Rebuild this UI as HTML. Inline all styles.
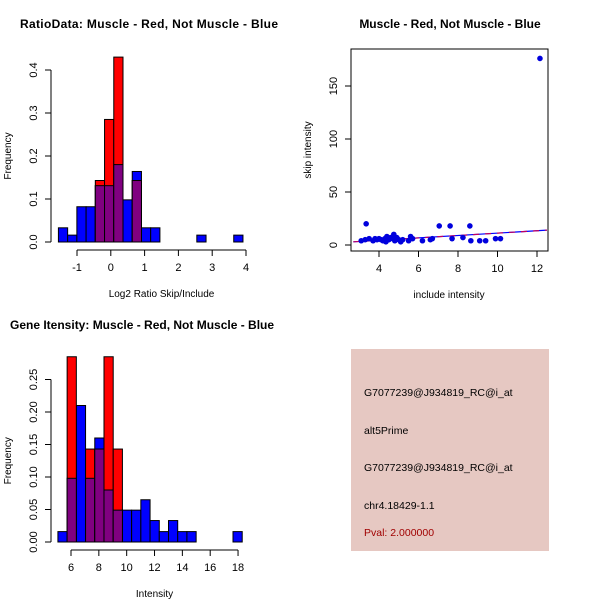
<!DOCTYPE html>
<html><head><meta charset="utf-8"><style>
body{margin:0;background:#fff}
text{font-family:"Liberation Sans",sans-serif;fill:#000}
</style></head><body>
<svg id="s" width="600" height="600" xmlns="http://www.w3.org/2000/svg">
<text x="20" y="28" font-size="12" font-weight="bold" textLength="258">RatioData: Muscle - Red, Not Muscle - Blue</text>
<text x="450" y="28" font-size="12" font-weight="bold" text-anchor="middle">Muscle - Red, Not Muscle - Blue</text>
<text x="10" y="329" font-size="12" font-weight="bold">Gene Itensity: Muscle - Red, Not Muscle - Blue</text>
<rect x="351" y="349" width="198" height="202" fill="#e6c8c2"/>
<g font-size="10.5">
<text x="364" y="396">G7077239@J934819_RC@i_at</text>
<text x="364" y="434">alt5Prime</text>
<text x="364" y="471">G7077239@J934819_RC@i_at</text>
<text x="364" y="509">chr4.18429-1.1</text>
<text x="364" y="536" style="fill:#a00000">Pval: 2.000000</text>
</g>
<g id="g1"></g><g id="g2"></g><g id="g3"></g>
</svg>
<script>
// ratio histogram
const ratioStart=-1.55, ratioWidth=0.273;
const ratioBlue=[0.033,0.016,0.082,0.082,0.131,0.131,0.18,0.098,0.164,0.033,0.033,0,0,0,0,0.016,0,0,0,0.016];
const ratioRed=[0,0,0,0,0.143,0.285,0.43,0,0.143,0,0,0,0,0,0,0,0,0,0,0];
const ratioXTicks=[-1,0,1,2,3,4];
const ratioYTicks=[0,0.1,0.2,0.3,0.4];
const ratioYLabels=["0.0","0.1","0.2","0.3","0.4"];
// intensity histogram
const intStart=5.06, intWidth=0.662;
const intBlue=[0.016,0.098,0.21,0.098,0.16,0.08,0.049,0.049,0.049,0.065,0.033,0.016,0.033,0.016,0.016,0,0,0,0,0.016];
const intRed=[0,0.285,0,0.143,0.143,0.285,0.143,0,0,0,0,0,0,0,0,0,0,0,0,0];
const intXTicks=[6,8,10,12,14,16,18];
const intYTicks=[0,0.05,0.1,0.15,0.2,0.25];
const intYLabels=["0.00","0.05","0.10","0.15","0.20","0.25"];
// scatter
const scX=[3.1,3.3,3.35,3.5,3.7,3.8,3.9,4.0,4.1,4.2,4.3,4.35,4.4,4.5,4.6,4.7,4.75,4.8,4.9,5.0,5.1,5.2,5.5,5.6,5.7,6.2,6.6,6.7,7.05,7.6,7.7,8.25,8.6,8.65,9.1,9.4,9.9,10.15,12.15];
const scY=[4,5,20,6,4,6,5,6,5,4,6,3,8,5,7,6,10,4,7,5,3,5,4,8,6,4,5,6,18,18,6,7,18,4,4,4,6,6,176];
const scXTicks=[4,6,8,10,12];
const scYTicks=[0,50,100,150];
const fitLine=[[2.7,3],[12.5,14]];

const NS="http://www.w3.org/2000/svg";
function mk(p,t,a){const e=document.createElementNS(NS,t);for(const k in a)e.setAttribute(k,a[k]);p.appendChild(e);return e;}

function hist(g,start,w,blue,red,sx,sy,xt,yt,ylab,axY,axX,xlab){
  blue.forEach((v,i)=>{if(!v)return;const x0=sx(start+i*w),x1=sx(start+(i+1)*w);
    const r=mk(g,'rect',{x:x0,y:sy(v),width:x1-x0,height:sy(0)-sy(v),fill:'#0000ff',stroke:'#000','stroke-width':1});
    
    });
  red.forEach((v,i)=>{if(!v)return;const x0=sx(start+i*w),x1=sx(start+(i+1)*w);
    const r=mk(g,'rect',{x:x0,y:sy(v),width:x1-x0,height:sy(0)-sy(v),fill:'#ff0000',stroke:'#000','stroke-width':1});
    
    
    const m=Math.min(v,blue[i]);if(m>0){
    const p=mk(g,'rect',{x:x0,y:sy(m),width:x1-x0,height:sy(0)-sy(m),fill:'#800080',stroke:'#000','stroke-width':1});
    
    }});
  mk(g,'line',{x1:axX,x2:axX,y1:sy(yt[0]),y2:sy(yt[yt.length-1]),stroke:'#000'});
  yt.forEach((v,i)=>{const y=sy(v);mk(g,'line',{x1:axX-6,x2:axX,y1:y,y2:y,stroke:'#000'});
    const t=mk(g,'text',{x:axX-14,y:y,'font-size':11,'text-anchor':'middle',transform:`rotate(-90 ${axX-14} ${y})`});t.textContent=ylab[i];
    
    });
  mk(g,'line',{x1:sx(xt[0]),x2:sx(xt[xt.length-1]),y1:axY,y2:axY,stroke:'#000'});
  xt.forEach(v=>{const x=sx(v);mk(g,'line',{x1:x,x2:x,y1:axY,y2:axY+6,stroke:'#000'});
    const t=mk(g,'text',{x:x,y:axY+21,'font-size':11,'text-anchor':'middle'});t.textContent=v;
    
    });
  const ym=(sy(yt[0])+sy(yt[yt.length-1]))/2;
  const yl=mk(g,'text',{x:11,y:ym,'font-size':10,'text-anchor':'middle',transform:`rotate(-90 11 ${ym})`});yl.textContent='Frequency';
  
  
  const xl=mk(g,'text',{x:(sx(xt[0])+sx(xt[xt.length-1]))/2,y:axY+47,'font-size':10,'text-anchor':'middle'});xl.textContent=xlab;
  
  
}
const g1=document.getElementById('g1');
hist(g1,ratioStart,ratioWidth,ratioBlue,ratioRed,v=>110.8+v*33.8,v=>242-v*430,ratioXTicks,ratioYTicks,ratioYLabels,250,51,'Log2 Ratio Skip/Include');
const g2=document.getElementById('g2');
hist(g2,intStart,intWidth,intBlue,intRed,v=>71+(v-6)*13.92,v=>542-v*650,intXTicks,intYTicks,intYLabels,550,51,'Intensity');

// scatter
const g3=document.getElementById('g3');
const px=v=>379+(v-4)*19.75, py=v=>245-v*1.06;
mk(g3,'rect',{x:351,y:49,width:197,height:202,fill:'none',stroke:'#000'});
scYTicks.forEach(v=>{const y=py(v);mk(g3,'line',{x1:345,x2:351,y1:y,y2:y,stroke:'#000'});
  const t=mk(g3,'text',{x:337,y:y,'font-size':11,'text-anchor':'middle',transform:`rotate(-90 337 ${y})`});t.textContent=v;
  
  });
scXTicks.forEach(v=>{const x=px(v);mk(g3,'line',{x1:x,x2:x,y1:251,y2:257,stroke:'#000'});
  const t=mk(g3,'text',{x:x,y:272,'font-size':11,'text-anchor':'middle'});t.textContent=v;
  
  });
mk(g3,'line',{x1:px(fitLine[0][0]),y1:py(fitLine[0][1]),x2:px(fitLine[1][0]),y2:py(fitLine[1][1]),stroke:'#0000ff','stroke-width':1.2});
mk(g3,'line',{x1:px(fitLine[0][0]),y1:py(fitLine[0][1]),x2:px(fitLine[1][0]),y2:py(fitLine[1][1]),stroke:'#c00060','stroke-width':1.2,'stroke-dasharray':'6 6'});
scX.forEach((v,i)=>{const c=mk(g3,'circle',{cx:px(v),cy:py(scY[i]),r:2.8,fill:'#0000dd'});
  
  });
const sxl=mk(g3,'text',{x:449,y:298,'font-size':10,'text-anchor':'middle'});sxl.textContent='include intensity';


const syl=mk(g3,'text',{x:311,y:150,'font-size':10,'text-anchor':'middle',transform:'rotate(-90 311 150)'});syl.textContent='skip intensity';


</script>
</body></html>
